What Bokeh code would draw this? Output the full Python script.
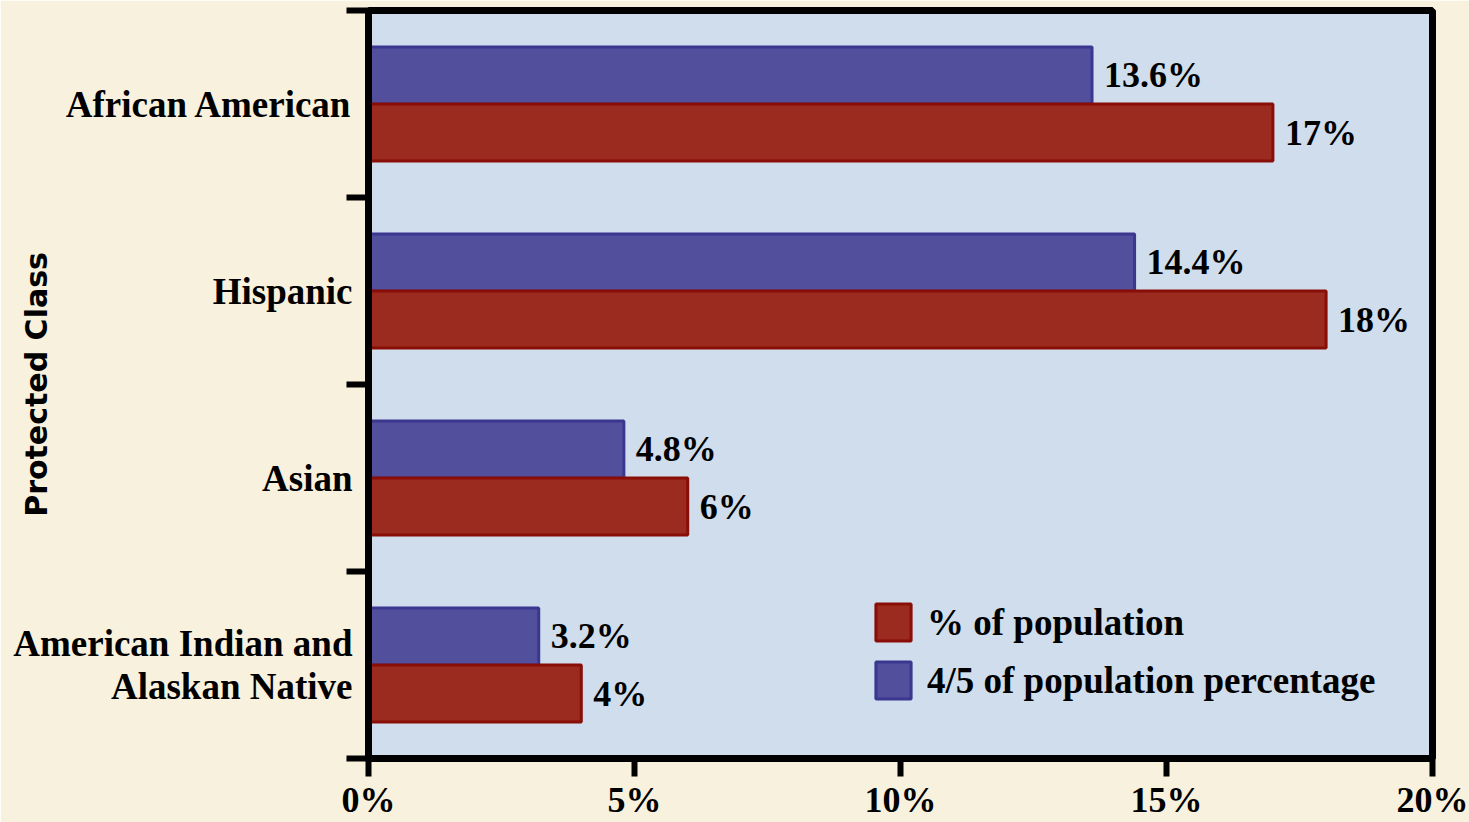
from bokeh.plotting import figure
from bokeh.models import ColumnDataSource, FixedTicker, Legend, LegendItem
from bokeh.core.properties import value
from bokeh.embed import file_html
from bokeh.resources import INLINE

# ---- data ----
categories = ["African American", "Hispanic", "Asian", "American Indian and\nAlaskan Native"]
pop_pct = [17, 18, 6, 4]
four_fifths_pct = [13.6, 14.4, 4.8, 3.2]
pop_labels = ["17%", "18%", "6%", "4%"]
four_fifths_labels = ["13.6%", "14.4%", "4.8%", "3.2%"]
x_ticks = [0, 5, 10, 15, 20]
x_tick_labels = ["0%", "5%", "10%", "15%", "20%"]
series_names = ["% of population", "4/5 of population percentage"]
y_title = "Protected Class"

n = len(categories)
centers = [n - i - 0.5 for i in range(n)]
bar_h = 0.305

src_pop = ColumnDataSource(dict(y=[c - bar_h / 2 for c in centers], x=pop_pct, lab=pop_labels))
src_ff = ColumnDataSource(dict(y=[c + bar_h / 2 for c in centers], x=four_fifths_pct, lab=four_fifths_labels))

BG = "#F8F1DE"
PLOT_BG = "#CFDDEC"
RED = "#9B2B1E"
RED_LINE = "#8A0E08"
BLUE = "#524F9C"
BLUE_LINE = "#3B3790"
SERIF = "Liberation Serif"

p = figure(width=1469, height=822, output_backend="svg", toolbar_location=None,
           x_range=(0, 20), y_range=(0, n),
           min_border_left=368, min_border_right=37, min_border_top=10, min_border_bottom=62)
p.border_fill_color = BG
p.background_fill_color = PLOT_BG
p.outline_line_color = "black"
p.outline_line_width = 7
p.xgrid.visible = False
p.ygrid.visible = False

r_ff = p.hbar(y="y", right="x", left=0, height=bar_h, source=src_ff,
              fill_color=BLUE, line_color=BLUE_LINE, line_width=3)
r_pop = p.hbar(y="y", right="x", left=0, height=bar_h, source=src_pop,
               fill_color=RED, line_color=RED_LINE, line_width=3)

for s in (src_ff, src_pop):
    p.text(x="x", y="y", text="lab", source=s, x_offset=12,
           text_font=value(SERIF), text_font_style="bold", text_font_size="36px",
           text_align="left", text_baseline="middle", text_color="black")

# x axis
xa = p.xaxis[0]
xa.ticker = FixedTicker(ticks=x_ticks)
xa.major_label_overrides = {t: l for t, l in zip(x_ticks, x_tick_labels)}
xa.axis_line_width = 7
xa.major_tick_out = 18
xa.major_tick_in = 0
xa.major_tick_line_width = 6
xa.minor_tick_line_color = None
xa.major_label_standoff = 3
xa.major_label_text_font = SERIF
xa.major_label_text_font_style = "bold"
xa.major_label_text_font_size = "36px"
xa.major_label_text_color = "black"

# y axis
ya = p.yaxis[0]
ya.ticker = FixedTicker(ticks=centers, minor_ticks=list(range(n + 1)))
ya.major_label_overrides = {c: cat for c, cat in zip(centers, categories)}
ya.axis_line_width = 7
ya.major_tick_out = 0
ya.major_tick_in = 0
ya.major_tick_line_color = None
ya.minor_tick_out = 22
ya.minor_tick_in = 0
ya.minor_tick_line_width = 6
ya.minor_tick_line_color = "black"
ya.major_label_standoff = -6
ya.major_label_text_font = SERIF
ya.major_label_text_font_style = "bold"
ya.major_label_text_font_size = "37px"
ya.major_label_text_line_height = 1.05
ya.major_label_text_color = "black"
ya.major_label_text_align = "right"
ya.axis_label = y_title
ya.axis_label_text_font = "DejaVu Sans"
ya.axis_label_text_font_style = "bold"
ya.axis_label_text_font_size = "30px"
ya.axis_label_text_color = "black"
ya.axis_label_standoff = -44

legend = Legend(items=[LegendItem(label=series_names[0], renderers=[r_pop]),
                       LegendItem(label=series_names[1], renderers=[r_ff])],
                location=(503, 55))
legend.background_fill_alpha = 0
legend.border_line_alpha = 0
legend.glyph_width = 44
legend.glyph_height = 46
legend.label_standoff = 12
legend.spacing = 12
legend.padding = 0
legend.margin = 0
legend.label_text_font = SERIF
legend.label_text_font_style = "bold"
legend.label_text_font_size = "37px"
legend.label_text_color = "black"
p.add_layout(legend, "center")

open("out.html", "w").write(file_html(p, INLINE))
